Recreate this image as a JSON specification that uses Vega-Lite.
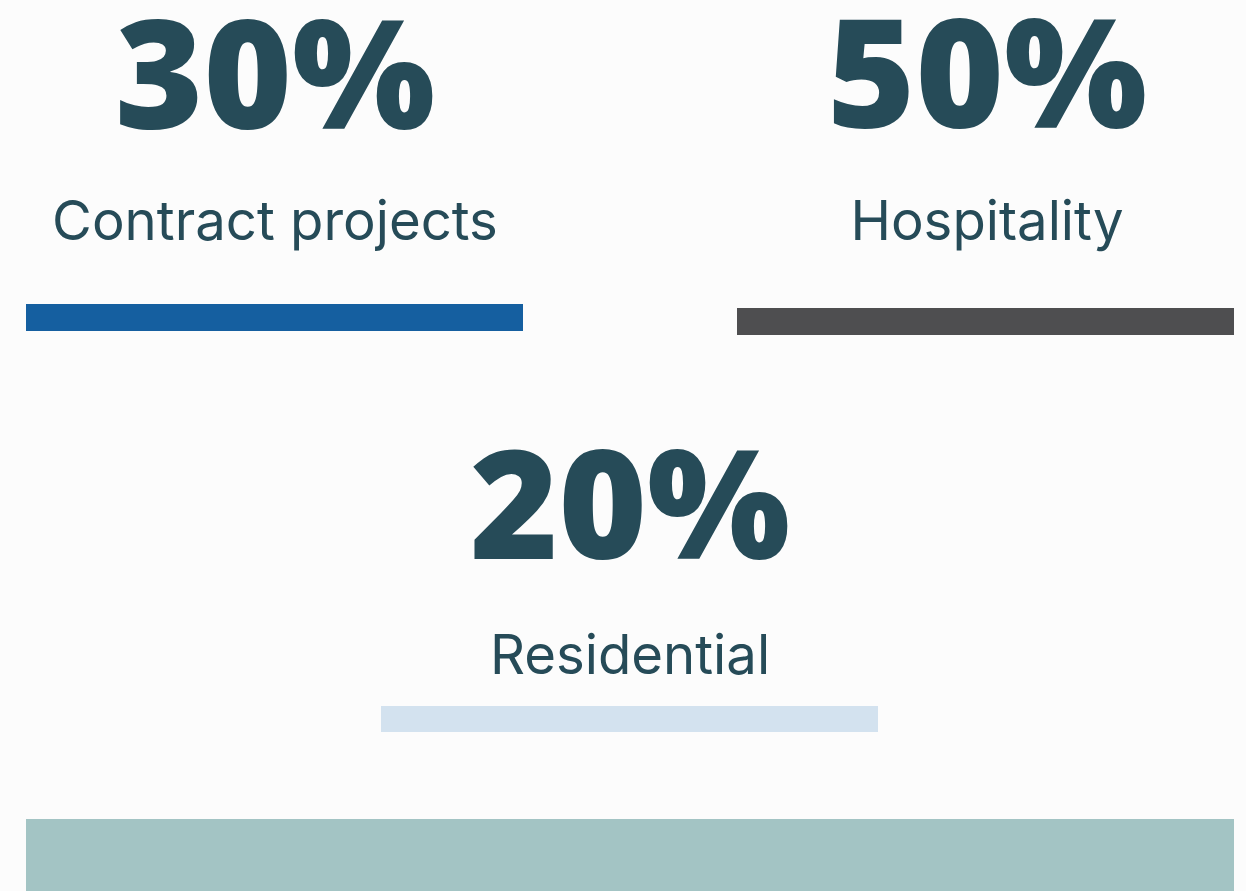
{
  "$schema": "https://vega.github.io/schema/vega-lite/v6.json",
  "width": 1246,
  "height": 891,
  "autosize": {"type": "none"},
  "padding": 0,
  "background": "#fcfcfc",
  "config": {"view": {"stroke": null}},
  "datasets": {
    "segments": [
      {"segment": "Contract projects", "share": 0.30, "cx": 275, "pctBase": 129, "labelBase": 240, "barStart": 26, "barEnd": 523, "barTop": 304, "barBottom": 331},
      {"segment": "Hospitality", "share": 0.50, "cx": 987, "pctBase": 128, "labelBase": 240, "barStart": 737, "barEnd": 1234, "barTop": 308, "barBottom": 335},
      {"segment": "Residential", "share": 0.20, "cx": 630, "pctBase": 559, "labelBase": 674, "barStart": 381, "barEnd": 878, "barTop": 706, "barBottom": 732}
    ],
    "band": [
      {"name": "footer", "x0": 26, "x1": 1234, "y0": 819, "y1": 891}
    ]
  },
  "layer": [
    {
      "data": {"name": "segments"},
      "mark": {"type": "rect"},
      "encoding": {
        "x": {"field": "barStart", "type": "quantitative", "scale": {"domain": [0, 1246], "nice": false, "zero": false}, "axis": null},
        "x2": {"field": "barEnd"},
        "y": {"field": "barTop", "type": "quantitative", "scale": {"domain": [0, 891], "nice": false, "zero": false, "reverse": true}, "axis": null},
        "y2": {"field": "barBottom"},
        "color": {"field": "segment", "type": "nominal", "scale": {"domain": ["Contract projects", "Hospitality", "Residential"], "range": ["#155fa0", "#4e4e50", "#d3e2ef"]}, "legend": null}
      }
    },
    {
      "data": {"name": "segments"},
      "mark": {"type": "text", "font": "Open Sans", "fontSize": 151, "fontWeight": 800, "align": "center", "baseline": "alphabetic", "color": "#264b58"},
      "encoding": {
        "x": {"field": "cx", "type": "quantitative", "scale": {"domain": [0, 1246], "nice": false, "zero": false}, "axis": null},
        "y": {"field": "pctBase", "type": "quantitative", "scale": {"domain": [0, 891], "nice": false, "zero": false, "reverse": true}, "axis": null},
        "text": {"field": "share", "type": "quantitative", "format": ".0%"}
      }
    },
    {
      "data": {"name": "segments"},
      "mark": {"type": "text", "font": "Inter", "fontSize": 54.5, "fontWeight": 400, "align": "center", "baseline": "alphabetic", "color": "#264b58"},
      "encoding": {
        "x": {"field": "cx", "type": "quantitative", "scale": {"domain": [0, 1246], "nice": false, "zero": false}, "axis": null},
        "y": {"field": "labelBase", "type": "quantitative", "scale": {"domain": [0, 891], "nice": false, "zero": false, "reverse": true}, "axis": null},
        "text": {"field": "segment", "type": "nominal"}
      }
    },
    {
      "data": {"name": "band"},
      "mark": {"type": "rect", "color": "#a3c4c4"},
      "encoding": {
        "x": {"field": "x0", "type": "quantitative", "scale": {"domain": [0, 1246], "nice": false, "zero": false}, "axis": null},
        "x2": {"field": "x1"},
        "y": {"field": "y0", "type": "quantitative", "scale": {"domain": [0, 891], "nice": false, "zero": false, "reverse": true}, "axis": null},
        "y2": {"field": "y1"}
      }
    }
  ]
}
